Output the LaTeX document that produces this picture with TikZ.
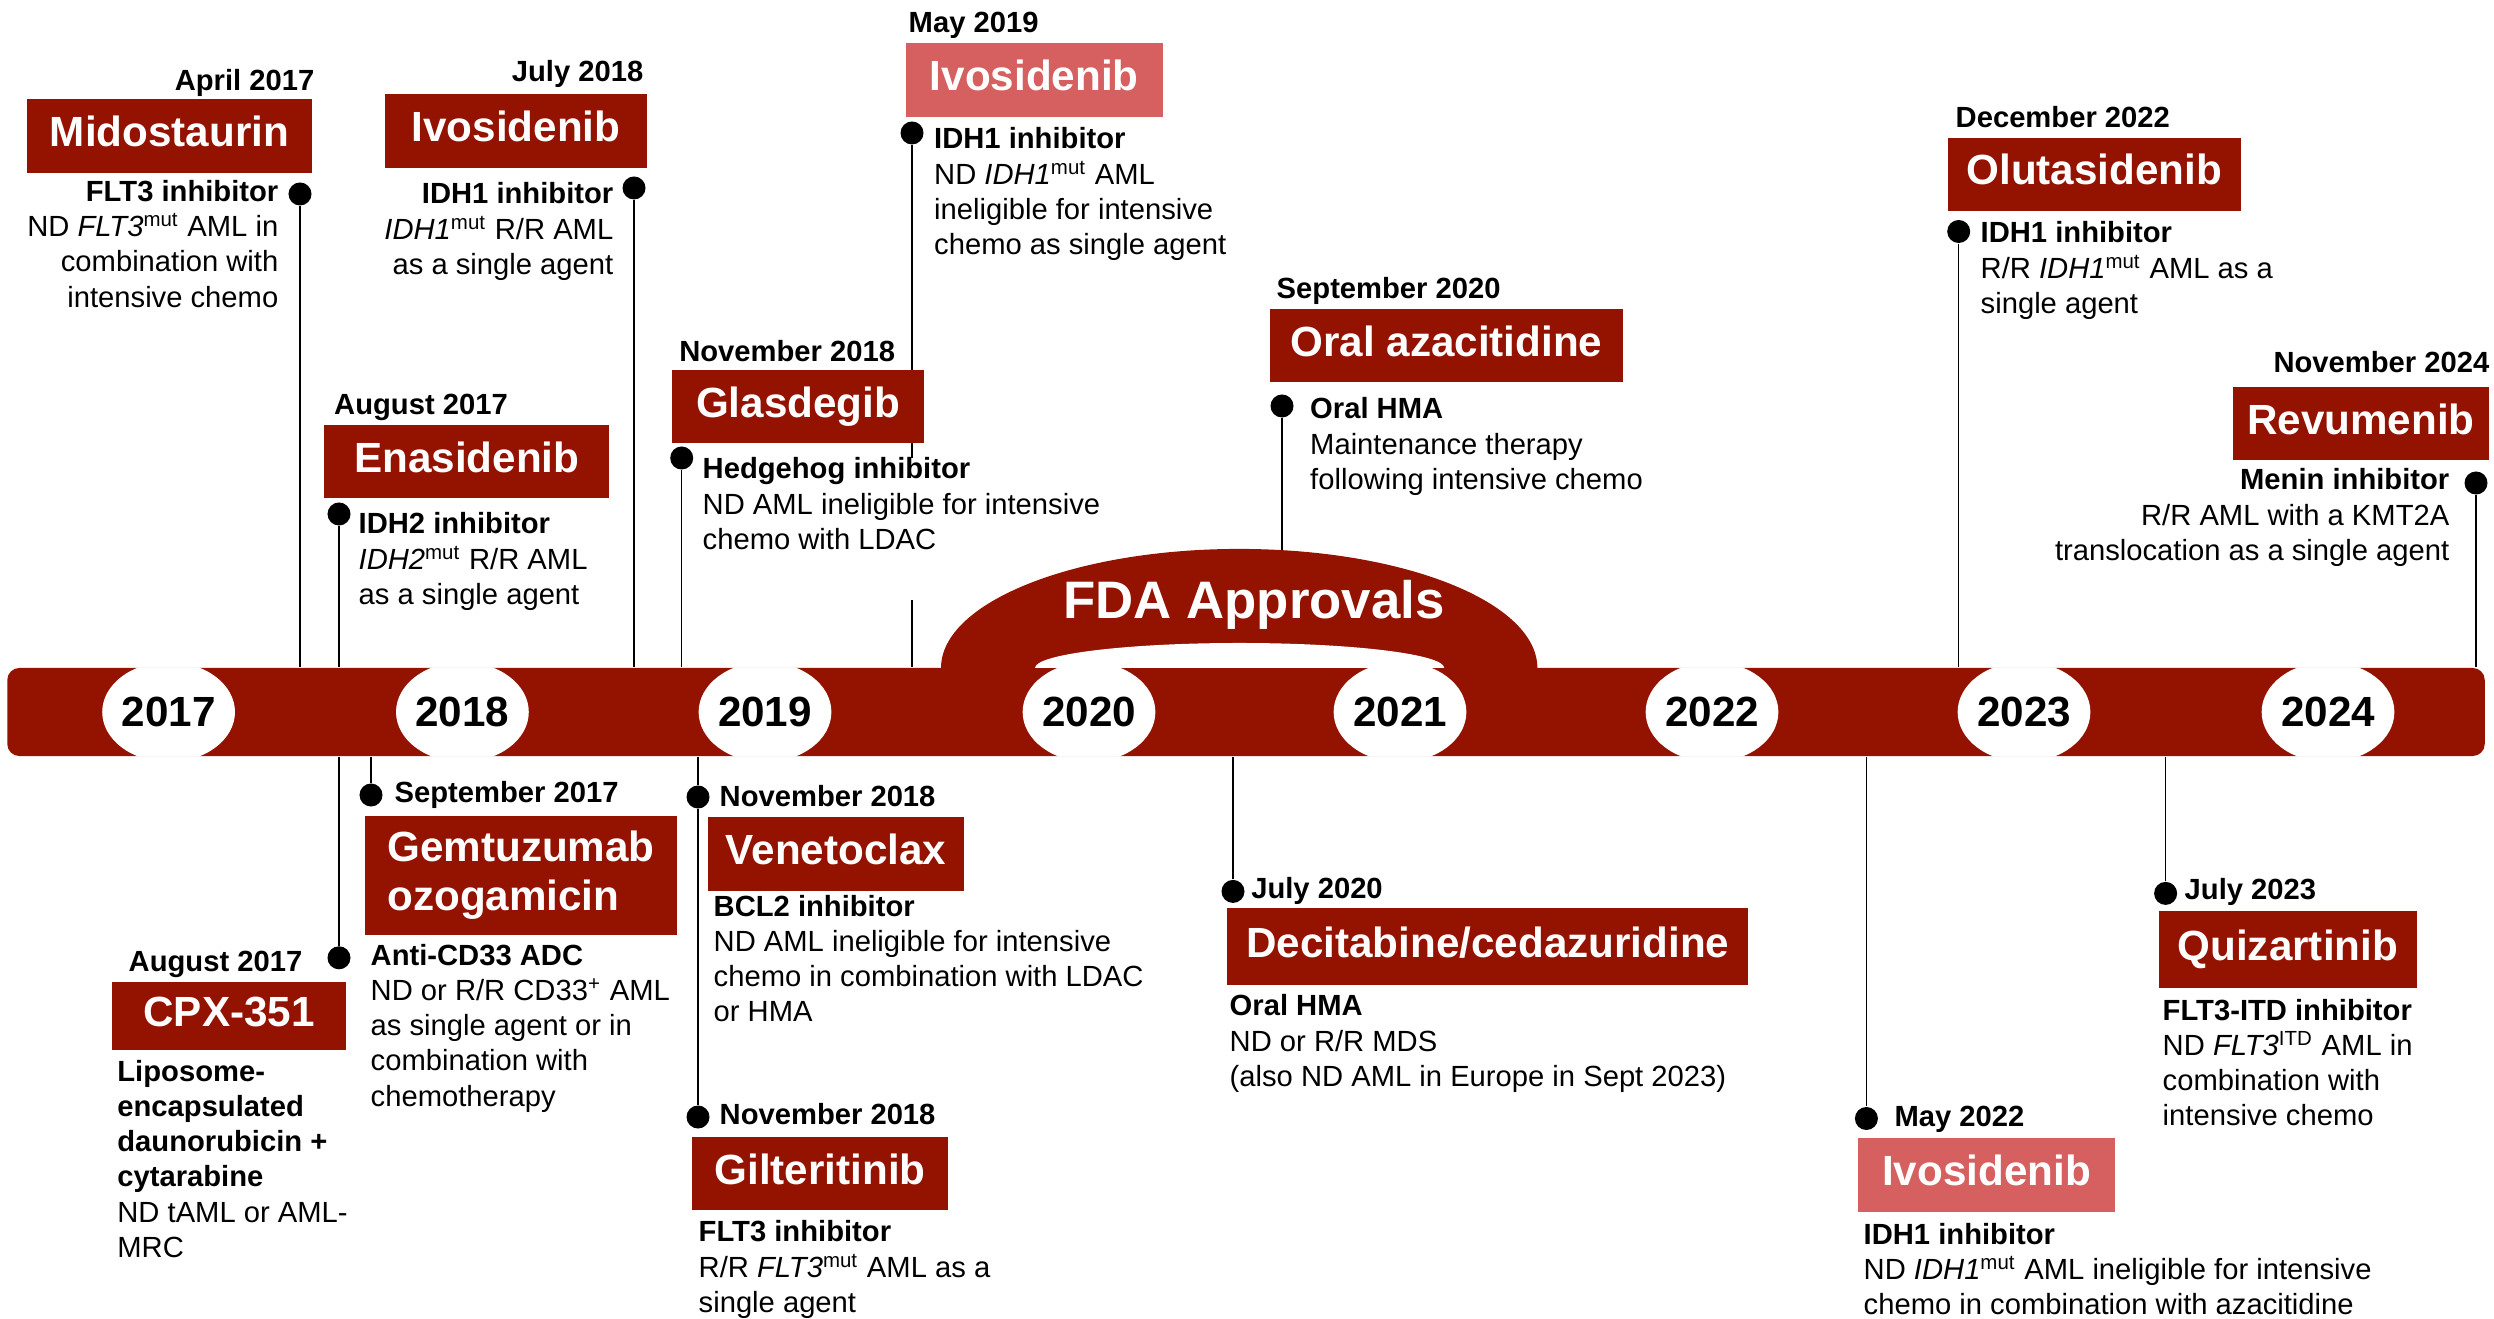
\documentclass[tikz,border=0pt]{standalone}
\usepackage{fontspec}
\setmainfont{Liberation Sans}
\usetikzlibrary{shapes.geometric,backgrounds}

\definecolor{barred}{RGB}{148,18,0}
\definecolor{lightred}{RGB}{214,96,95}

\newcommand{\mut}[1]{\textit{#1}\textsuperscript{mut}}

\begin{document}
\begin{tikzpicture}[x=0.01cm,y=-0.01cm]

        \useasboundingbox (0,0) rectangle (2494,1319);

        \begin{scope}[every node/.style={fill=barred,text=white,inner sep=0pt,
              minimum height=0.73cm,text height=8.6pt,text depth=2.5pt,
              font=\fontsize{12}{14.2}\selectfont\bfseries}]
          \node[minimum width=2.85cm]  (mido)  at (169.5,136)    {Midostaurin};
          \node[minimum width=2.62cm]  (ivo18) at (516,131)      {Ivosidenib};
          \node[minimum width=2.845cm] (ena)   at (466.8,461.9)  {Enasidenib};
          \node[minimum width=2.52cm]  (glas)  at (798,406.9)    {Glasdegib};
          \node[minimum width=2.567cm,minimum height=0.738cm,fill=lightred]
                                       (ivo19) at (1034.2,79.8)  {Ivosidenib};
          \node[minimum width=3.53cm]  (oaza)  at (1446.5,345.8) {Oral azacitidine};
          \node[minimum width=2.925cm] (oluta) at (2094.3,174.1) {Olutasidenib};
          \node[minimum width=2.565cm] (revu)  at (2360.8,423.7) {Revumenib};
          \node[minimum width=2.34cm,minimum height=0.678cm]
                                       (cpx)   at (229,1015.6)   {CPX-351};
          \node[minimum width=3.125cm,minimum height=1.193cm,align=left,text height=22.8pt]
                                       (gemtu) at (521,875.3)    {Gemtuzumab\\ozogamicin};
          \node[minimum width=2.56cm]  (vene)  at (836,854)      {Venetoclax};
          \node[minimum width=2.56cm]  (gilt)  at (820,1173.8)   {Gilteritinib};
          \node[minimum width=5.204cm,minimum height=0.765cm]
                                       (deci)  at (1487.8,946.3) {Decitabine/cedazuridine};
          \node[minimum width=2.57cm,minimum height=0.74cm,fill=lightred]
                                       (ivo22) at (1986.5,1175)  {Ivosidenib};
          \node[minimum width=2.576cm,minimum height=0.768cm]
                                       (quiz)  at (2287.8,949.4) {Quizartinib};
        \end{scope}

        \begin{scope}[every node/.style={inner sep=0pt,
              font=\fontsize{8.3}{10}\selectfont\bfseries}]
          \node[anchor=base east] (mido-date)  at (315,91)       {April 2017};
          \node[anchor=base east] (ivo18-date) at (644,82)       {July 2018};
          \node[anchor=base west] (ena-date)   at (333.5,415)    {August 2017};
          \node[anchor=base west] (glas-date)  at (678.6,362)    {November 2018};
          \node[anchor=base west] (ivo19-date) at (908,32.5)     {May 2019};
          \node[anchor=base west] (oaza-date)  at (1276,298.5)   {September 2020};
          \node[anchor=base west] (oluta-date) at (1955,127.5)   {December 2022};
          \node[anchor=base east] (revu-date)  at (2490,373)     {November 2024};
          \node[anchor=base east] (cpx-date)   at (303,971.6)    {August 2017};
          \node[anchor=base west] (gemtu-date) at (394,802)      {September 2017};
          \node[anchor=base west] (vene-date)  at (719,806)      {November 2018};
          \node[anchor=base west] (gilt-date)  at (719,1124)     {November 2018};
          \node[anchor=base west] (deci-date)  at (1250.6,898.8) {July 2020};
          \node[anchor=base west] (ivo22-date) at (1893.8,1126)  {May 2022};
          \node[anchor=base west] (quiz-date)  at (2184,899)     {July 2023};
        \end{scope}

        \begin{scope}[every node/.style={inner sep=0pt,
              font=\fontsize{8.3}{10}\selectfont}]
          \node[anchor=base east,align=right] (mido-info) at (279,307.1)
            {\textbf{FLT3 inhibitor}\\ND \mut{FLT3} AML in\\combination with\\intensive chemo};
          \node[anchor=base east,align=right] (ivo18-info) at (614,274.3)
            {\textbf{IDH1 inhibitor}\\\mut{IDH1} R/R AML\\as a single agent};
          \node[anchor=base west,align=left] (ena-info) at (358,604.3)
            {\textbf{IDH2 inhibitor}\\\mut{IDH2} R/R AML\\as a single agent};
          \node[anchor=base west,align=left,fill=white,text depth=14.4pt] (glas-info) at (702,549.3)
            {\textbf{Hedgehog inhibitor}\\ND AML ineligible for intensive\\chemo with LDAC};
          \node[anchor=base west,align=left] (ivo19-info) at (933.5,254.4)
            {\textbf{IDH1 inhibitor}\\ND \mut{IDH1} AML\\ineligible for intensive\\chemo as single agent};
          \node[anchor=base west,align=left] (oaza-info) at (1309.5,489.3)
            {\textbf{Oral HMA}\\Maintenance therapy\\following intensive chemo};
          \node[anchor=base west,align=left] (oluta-info) at (1980,313.3)
            {\textbf{IDH1 inhibitor}\\R/R \mut{IDH1} AML as a\\single agent};
          \node[anchor=base east,align=right] (revu-info) at (2450,560.3)
            {\textbf{Menin inhibitor}\\R/R AML with a KMT2A\\translocation as a single agent};
          \node[anchor=base west,align=left] (cpx-info) at (116.7,1257.3)
            {\textbf{Liposome-}\\\textbf{encapsulated}\\\textbf{daunorubicin +}\\\textbf{cytarabine}\\ND tAML or AML-\\MRC};
          \node[anchor=base west,align=left] (gemtu-info) at (370,1106)
            {\textbf{Anti-CD33 ADC}\\ND or R/R CD33\textsuperscript{+} AML\\as single agent or in\\combination with\\chemotherapy};
          \node[anchor=base west,align=left] (vene-info) at (713,1021.9)
            {\textbf{BCL2 inhibitor}\\ND AML ineligible for intensive\\chemo in combination with LDAC\\or HMA};
          \node[anchor=base west,align=left] (gilt-info) at (698,1312.3)
            {\textbf{FLT3 inhibitor}\\R/R \mut{FLT3} AML as a\\single agent};
          \node[anchor=base west,align=left] (deci-info) at (1229,1086.3)
            {\textbf{Oral HMA}\\ND or R/R MDS\\(also ND AML in Europe in Sept 2023)};
          \node[anchor=base west,align=left] (ivo22-info) at (1863,1314.5)
            {\textbf{IDH1 inhibitor}\\ND \mut{IDH1} AML ineligible for intensive\\chemo in combination with azacitidine};
          \node[anchor=base west,align=left] (quiz-info) at (2162,1125.5)
            {\textbf{FLT3-ITD inhibitor}\\ND \textit{FLT3}\textsuperscript{ITD} AML in\\combination with\\intensive chemo};
        \end{scope}

        \begin{scope}[every node/.style={circle,fill=black,minimum size=0.23cm,inner sep=0pt}]
          \node (mido-dot)  at (300,194)      {};
          \node (ivo18-dot) at (634,188)      {};
          \node (ena-dot)   at (339,514)      {};
          \node (glas-dot)  at (681.7,458)    {};
          \node (ivo19-dot) at (912,133)      {};
          \node (oaza-dot)  at (1282,406)     {};
          \node (oluta-dot) at (1958.7,231.5) {};
          \node (revu-dot)  at (2476,483)     {};
          \node (cpx-dot)   at (339,957.8)    {};
          \node (gemtu-dot) at (371,795)      {};
          \node (vene-dot)  at (698,797)      {};
          \node (gilt-dot)  at (698,1117)     {};
          \node (deci-dot)  at (1233,891.4)   {};
          \node (ivo22-dot) at (1866.4,1118.5) {};
          \node (quiz-dot)  at (2165.6,893.4) {};
        \end{scope}

        \node[fill=barred,rounded corners=0.12cm,minimum width=24.76cm,
              minimum height=0.88cm,inner sep=0pt] (bar) at (1246,712) {};

        \fill[barred] (941,668) arc[start angle=180,end angle=0,
              x radius=2.98cm,y radius=1.19cm] -- cycle;
        \fill[white] (1035,668) arc[start angle=180,end angle=0,
              x radius=2.045cm,y radius=0.25cm] -- cycle;
        \node[text=white,font=\fontsize{15}{18}\selectfont\bfseries,anchor=base]
              (fda) at (1254,619) {FDA Approvals};

        \begin{scope}[every node/.style={ellipse,fill=white,inner sep=0pt,
              minimum width=1.16cm,minimum height=1cm,
              font=\fontsize{12}{14}\selectfont\bfseries}]
          \clip[rounded corners=0.12cm] (bar.south west) rectangle (bar.north east);
          \node (y17) at (168.6,712) {2017};
          \node (y18) at (462.4,712) {2018};
          \node (y19) at (765,712)   {2019};
          \node (y20) at (1089,712)  {2020};
          \node (y21) at (1400,712)  {2021};
          \node (y22) at (1712,712)  {2022};
          \node (y23) at (2024,712)  {2023};
          \node (y24) at (2328,712)  {2024};
        \end{scope}

        \begin{scope}[on background layer,line width=1.15pt]
          \draw (mido-dot)  -- (mido-dot |- bar.north);
          \draw (ivo18-dot) -- (ivo18-dot |- bar.north);
          \draw (ena-dot)   -- (ena-dot |- bar.north);
          \draw (glas-dot)  -- (glas-dot |- bar.north);
          \draw (ivo19-dot) -- (ivo19-dot |- bar.north);
          \draw (oaza-dot)  -- (oaza-dot |- bar.north);
          \draw (oluta-dot) -- (oluta-dot |- bar.north);
          \draw (revu-dot)  -- (revu-dot |- bar.north);
          \draw (cpx-dot)   -- (cpx-dot |- bar.south);
          \draw (gemtu-dot) -- (gemtu-dot |- bar.south);
          \draw (vene-dot)  -- (vene-dot |- bar.south);
          \draw (vene-dot)  -- (gilt-dot);
          \draw (deci-dot)  -- (deci-dot |- bar.south);
          \draw (ivo22-dot) -- (ivo22-dot |- bar.south);
          \draw (quiz-dot)  -- (quiz-dot |- bar.south);
        \end{scope}

      \end{tikzpicture}
\end{document}
